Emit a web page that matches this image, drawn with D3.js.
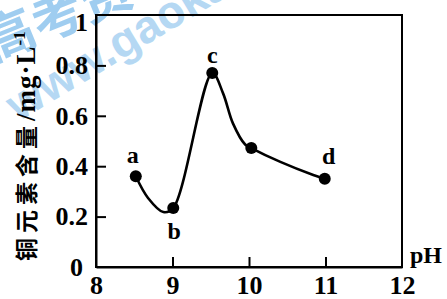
<!DOCTYPE html>
<html>
<head>
<meta charset="utf-8">
<script src="https://cdn.jsdelivr.net/npm/d3@7"></script>
<style>
body { margin: 0; background: #fff; }
svg { display: block; }
</style>
</head>
<body>
<svg id="chart" width="447" height="299"></svg>
<script>
// sample points (pH, mg/L)
var labels = ['a', 'b', 'c', '', 'd'];
var phValues = [8.52, 9.01, 9.52, 10.03, 10.99];
var copperValues = [0.36, 0.234, 0.77, 0.472, 0.35];

// hand drawn curve
var curvePh = [8.52, 8.68, 8.88, 9.01, 9.52, 9.66, 9.79, 9.95, 10.03, 10.41, 10.84, 10.99];
var curveVal = [0.36, 0.274, 0.218, 0.234, 0.77, 0.69, 0.57, 0.486, 0.472, 0.417, 0.365, 0.35];

var xTicks = [8, 9, 10, 11, 12];
var yTicks = [0, 0.2, 0.4, 0.6, 0.8, 1];

var svg = d3.select('#chart');
var plotLeft = 96, plotRight = 402, plotTop = 15, plotBottom = 267;

var x = d3.scaleLinear().domain([8, 12]).range([plotLeft, plotRight]);
var y = d3.scaleLinear().domain([0, 1]).range([plotBottom, plotTop]);

// watermark
svg.append('text')
    .attr('transform', 'translate(18,122) rotate(-31)')
    .attr('font-family', 'Liberation Sans, Arial')
    .attr('font-weight', 'bold')
    .attr('font-size', 46)
    .attr('fill', '#b5d8f3')
    .text('www.gaokao');
svg.append('text')
    .attr('transform', 'translate(-8,62) rotate(-22)')
    .attr('font-family', 'Noto Sans CJK SC')
    .attr('font-weight', 'bold')
    .attr('font-size', 52)
    .attr('fill', '#9fcdf0')
    .text('高考资');

var serif = 'Liberation Serif, Times New Roman, serif';

// frame
svg.append('rect')
    .attr('x', plotLeft).attr('y', plotTop)
    .attr('width', plotRight - plotLeft).attr('height', plotBottom - plotTop)
    .attr('fill', 'none').attr('stroke', '#000').attr('stroke-width', 2);

var xAxis = svg.append('g')
    .attr('transform', 'translate(0,' + plotBottom + ')')
    .call(d3.axisBottom(x).tickValues(xTicks).tickSizeInner(-10).tickSizeOuter(0).tickPadding(14)
        .tickFormat(d3.format('d')));
var yAxis = svg.append('g')
    .attr('transform', 'translate(' + plotLeft + ',0)')
    .call(d3.axisLeft(y).tickValues(yTicks).tickSizeInner(-10).tickSizeOuter(0).tickPadding(8)
        .tickFormat(function(d) { return d == 0 || d == 1 ? d : d.toFixed(1); }));

svg.selectAll('.domain').attr('stroke-width', 2);
svg.selectAll('.tick line').attr('stroke-width', 2);
svg.selectAll('.tick text')
    .attr('font-family', serif)
    .attr('font-weight', 'bold')
    .attr('font-size', 26)
    .attr('fill', '#000');
xAxis.selectAll('.tick text').attr('dy', '0.5em');
xAxis.selectAll('.tick').filter(function(d) { return d == 8 || d == 12; }).select('line').remove();
yAxis.selectAll('.tick').filter(function(d) { return d == 0 || d == 1; }).select('line').remove();
yAxis.selectAll('.tick').filter(function(d) { return d == 0; }).select('text').attr('dx', -5);
yAxis.selectAll('.tick').filter(function(d) { return d == 1; }).select('text').attr('dy', '0.6em');

// curve
var pts = curvePh.map(function(p, i) { return [p, curveVal[i]]; });
svg.append('path')
    .datum(pts)
    .attr('fill', 'none')
    .attr('stroke', '#000')
    .attr('stroke-width', 2.6)
    .attr('d', d3.line()
        .x(function(d) { return x(d[0]); })
        .y(function(d) { return y(d[1]); })
        .curve(d3.curveCatmullRom.alpha(0.5)));

svg.selectAll('circle.pt')
    .data(phValues)
    .enter()
    .append('circle')
    .attr('class', 'pt')
    .attr('cx', function(d) { return x(d); })
    .attr('cy', function(d, i) { return y(copperValues[i]); })
    .attr('r', 6)
    .attr('fill', '#000');

var labelOffsets = [[-3, -13], [1, 31], [0, -10], [0, 0], [4, -15]];
svg.selectAll('text.lbl')
    .data(labels)
    .enter()
    .append('text')
    .attr('class', 'lbl')
    .attr('x', function(d, i) { return x(phValues[i]) + labelOffsets[i][0]; })
    .attr('y', function(d, i) { return y(copperValues[i]) + labelOffsets[i][1]; })
    .attr('text-anchor', 'middle')
    .attr('font-family', serif)
    .attr('font-weight', 'bold')
    .attr('font-size', 24)
    .text(function(d) { return d; });

svg.append('text')
    .attr('x', 410).attr('y', 263)
    .attr('font-family', serif)
    .attr('font-weight', 'bold')
    .attr('font-size', 24)
    .text('pH');

// y title
var yt = svg.append('text')
    .attr('transform', 'translate(35,261) rotate(-90)')
    .attr('font-weight', 'bold')
    .attr('font-size', 23);
yt.append('tspan').attr('font-family', 'Noto Sans CJK SC').attr('letter-spacing', 5).text('铜元素含量');
yt.append('tspan').attr('font-family', serif).attr('font-size', 27).attr('letter-spacing', 1).text('/mg·L');
yt.append('tspan').attr('font-family', serif).attr('font-size', 17).attr('dy', -10).text('-1');
</script>
</body>
</html>
